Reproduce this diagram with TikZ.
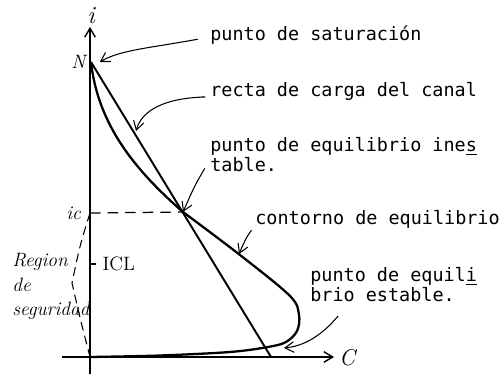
\documentclass[tikz,border=0pt]{standalone}
\usepackage{fontspec}
\newfontfamily\typedfont{DejaVu Sans Mono}
\usetikzlibrary{arrows.meta, positioning}

\begin{document}
\begin{tikzpicture}[
    x=0.02cm, y=-0.02cm,
    typed/.style = {font=\typedfont\fontsize{10.5}{12}\selectfont, inner sep=0pt, anchor=base west},
    hand/.style = {font=\itshape\fontsize{11}{14}\selectfont, inner sep=0pt},
    axisline/.style = {line width=0.8pt, ->},
    contour/.style = {line width=1.3pt},
    leader/.style = {line width=0.6pt, ->},
    >={Straight Barb[length=5pt, width=6pt]}]

    \useasboundingbox (0,0) rectangle (500,374);

    % axes
    \coordinate (ybot) at (90,374);
    \coordinate (ytop) at (90,27);
    \coordinate (xleft) at (62,357);
    \coordinate (xright) at (334,357);
    \coordinate (O) at (90,357);
    \draw[axisline] (ybot) -- (ytop);
    \draw[axisline] (xleft) -- (xright);
    \node[hand, font=\itshape\fontsize{14}{14}\selectfont] (iax) at (91,16) {i};
    \node[hand, font=\itshape\fontsize{13}{13}\selectfont] (Cax) at (347,358) {C};

    % points
    \coordinate (N) at (91,62);
    \coordinate (U) at (183,212);
    \coordinate (S) at (268,347);
    \coordinate (E) at (271,357);
    \coordinate (ic) at (90,213);
    \coordinate (icl) at (90,264);
    \node[hand, left=3pt of N] (Nlab) {N};

    % load line and equilibrium contour
    \draw[line width=1.1pt] (N) -- (E);
    \draw[contour] (N) .. controls (98,125) and (135,170) .. (U);
    \draw[contour] plot[smooth, tension=0.55] coordinates {(U) (240,255) (290,296) (299,315) (297,331) (286,342) (268,347) (230,352) (160,355.5) (O)};

    % current levels
    \draw[line width=0.7pt, dash pattern=on 6pt off 4pt] (ic) -- (U);
    \node[hand, left=5pt of ic] (iclab) {ic};
    \draw[line width=0.7pt] (icl) -- ++(6,0);
    \node[hand, font=\fontsize{11}{11}\selectfont, right=7pt of icl] (icllab) {ICL};

    % safety region
    \draw[line width=0.6pt, dash pattern=on 5pt off 3pt] (ic) .. controls (80,245) .. (72,283) .. controls (80,318) .. (O);
    \node[hand, align=left, anchor=north west] (region) at (12,253) {Region\\de\\seguridad};

    % labels
    \node[typed] (tsat) at (210,41) {punto de saturación};
    \node[typed] (trecta) at (210,97) {recta de carga del canal};
    \node[typed] (tines) at (210,152) {punto de equilibrio ine\underline{s}};
    \node[typed] (tines2) at (210,172) {table.};
    \node[typed] (tcont) at (255,225) {contorno de equilibrio};
    \node[typed] (test) at (310,282) {punto de equil\underline{i}};
    \node[typed] (test2) at (310,302) {brio estable.};

    \draw[leader] ([xshift=-7pt, yshift=1pt]tsat.base west) .. controls (150,48) and (120,50) .. ([xshift=5pt]N);
    \draw[leader] ([xshift=-5pt]trecta.base west) -- ++(4,0) .. controls (165,98) and (142,110) .. (136,131);
    \draw[leader] ([xshift=-3pt, yshift=2pt]tines2.base west) .. controls (195,185) .. (U);
    \draw[leader] ([xshift=-2pt, yshift=-3pt]tcont.base west) .. controls (246,238) .. (239,254);
    \draw[leader] ([xshift=16pt, yshift=-8pt]test2.base west) .. controls (322,335) and (305,346) .. (284,348);
\end{tikzpicture}
\end{document}
